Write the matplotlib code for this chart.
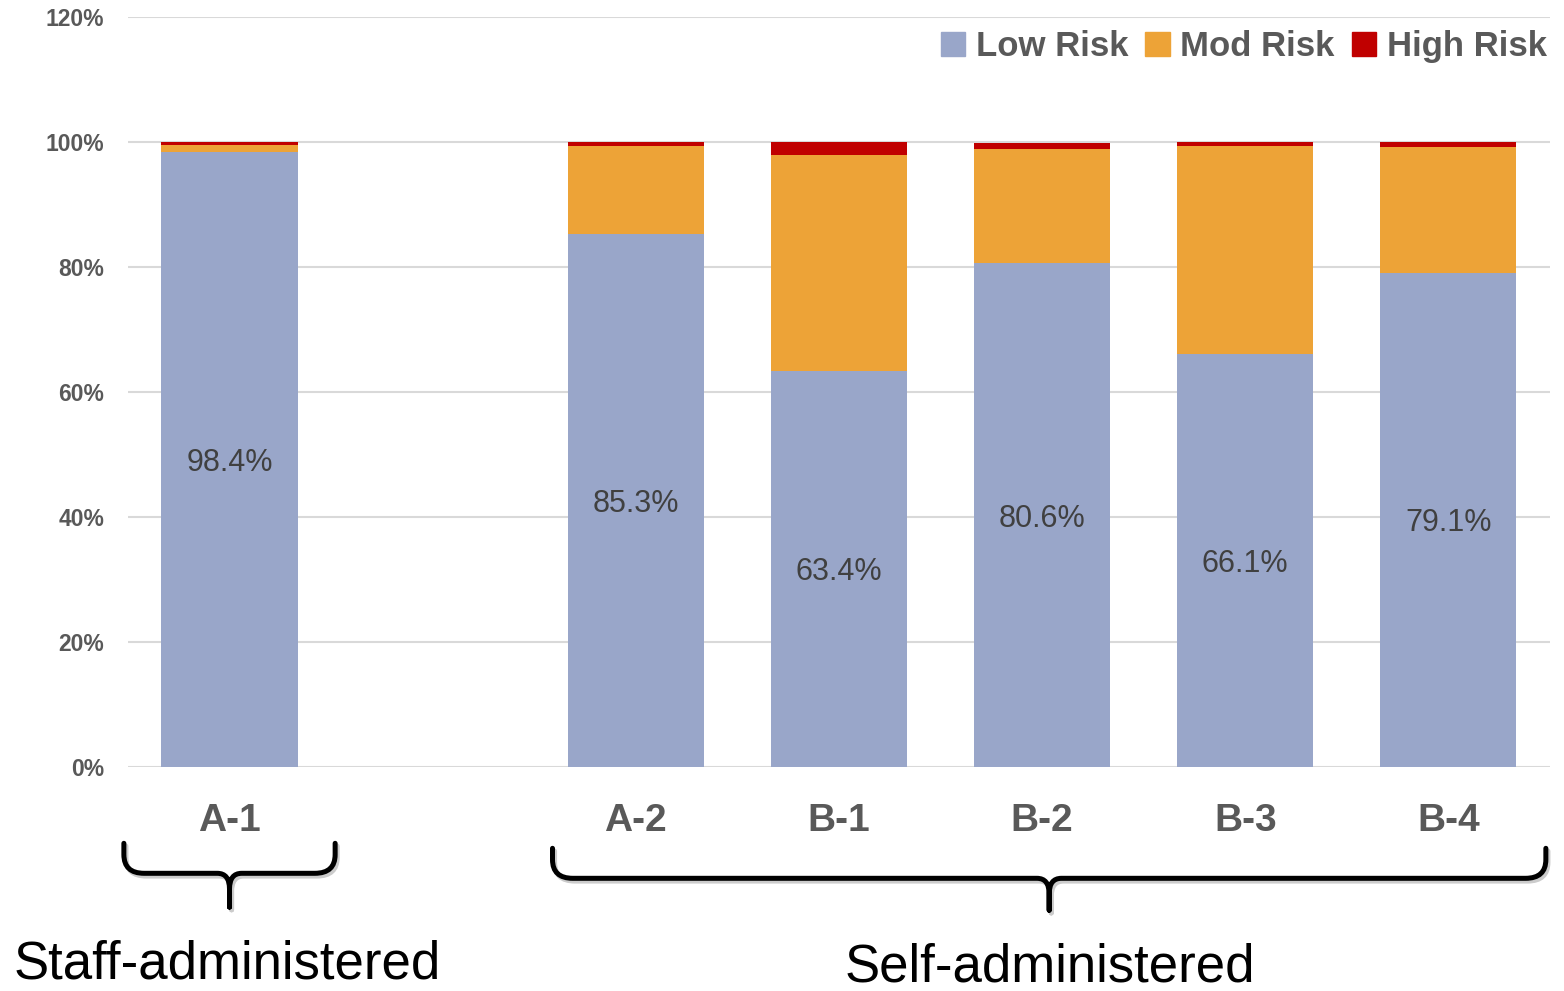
import matplotlib
matplotlib.use("Agg")
import matplotlib.pyplot as plt
import matplotlib.patheffects as pe
from matplotlib.path import Path
from matplotlib.patches import PathPatch, Patch
import numpy as np

plt.rcParams['font.family'] = ['Liberation Sans', 'DejaVu Sans']

# Risk distribution per group (percent)
categories = ["A-1", "A-2", "B-1", "B-2", "B-3", "B-4"]
positions = [0, 2, 3, 4, 5, 6]   # slot 1 left empty between the two groups
low_risk = [98.4, 85.3, 63.4, 80.6, 66.1, 79.1]
mod_risk = [1.1, 14.1, 34.5, 18.2, 33.2, 20.1]
high_risk = [0.5, 0.6, 2.1, 1.1, 0.7, 0.8]
y_ticks = [0, 20, 40, 60, 80, 100, 120]

c_low, c_mod, c_high = "#99A6C9", "#EDA337", "#C00000"
grey_txt = "#595959"

fig = plt.figure(figsize=(15.64, 9.91), dpi=100)
ax = fig.add_axes([0.0818, 0.226, 0.9092, 0.757])

low = np.array(low_risk)
mod = np.array(mod_risk)
high = np.array(high_risk)
w = 0.67
ax.bar(positions, low, w, color=c_low, zorder=2)
ax.bar(positions, mod, w, bottom=low, color=c_mod, zorder=2)
ax.bar(positions, high, w, bottom=low + mod, color=c_high, zorder=2)

for x, v in zip(positions, low_risk):
    ax.text(x, v / 2, f"{v:.1f}%", ha="center", va="center_baseline",
            fontsize=22, color="#404040", zorder=3)

ax.set_xlim(-0.5, 6.5)
ax.set_ylim(0, 120)
ax.set_yticks(y_ticks)
ax.set_yticklabels([f"{t}%" for t in y_ticks], fontsize=16.5,
                   fontweight="bold", color=grey_txt)
ax.set_xticks(positions)
ax.set_xticklabels(categories, fontsize=28, fontweight="bold", color=grey_txt)
ax.tick_params(axis="y", length=0, pad=17)
ax.tick_params(axis="x", length=0, pad=26)
ax.grid(axis="y", color="#D9D9D9", linewidth=1.5, zorder=0)
for s in ax.spines.values():
    s.set_visible(False)

# group braces below the category labels
def brace(x0, x1, yt, yh, yb, rx=0.1, ry=3.0, dx=0.06, dy=2.5):
    xc = (x0 + x1) / 2
    verts = [(x0, yt), (x0, yh + ry), (x0, yh), (x0 + rx, yh),
             (xc - dx, yh), (xc, yh), (xc, yh - dy), (xc, yb),
             (x1, yt), (x1, yh + ry), (x1, yh), (x1 - rx, yh),
             (xc + dx, yh), (xc, yh), (xc, yh - dy), (xc, yb)]
    codes = [Path.MOVETO, Path.LINETO, Path.CURVE3, Path.CURVE3,
             Path.LINETO, Path.CURVE3, Path.CURVE3, Path.LINETO] * 2
    p = PathPatch(Path(verts, codes), fill=False, lw=3.6, color="black",
                  capstyle="round", joinstyle="round", clip_on=False)
    p.set_path_effects([pe.SimpleLineShadow(offset=(1.5, -2), alpha=0.2),
                        pe.Normal()])
    ax.add_patch(p)

brace(-0.52, 0.52, -12.2, -17.0, -22.4)
brace(1.59, 6.48, -13.0, -17.8, -22.9)

ax.text(-0.01, -31.6, "Staff-administered", ha="center", va="center",
        fontsize=38, color="black", clip_on=False)
ax.text(4.04, -32.0, "Self-administered", ha="center", va="center",
        fontsize=38, color="black", clip_on=False)

handles = [Patch(color=c_low, label="Low Risk"),
           Patch(color=c_mod, label="Mod Risk"),
           Patch(color=c_high, label="High Risk")]
leg = fig.legend(handles=handles, loc="center right", ncol=3,
                 bbox_to_anchor=(1.0, 0.953), frameon=False,
                 prop={"size": 25, "weight": "bold"},
                 handlelength=0.7, handleheight=0.7, handletextpad=0.3,
                 columnspacing=0.5, borderaxespad=0.1)
for t in leg.get_texts():
    t.set_color(grey_txt)

fig.savefig("out.png", dpi=100)
